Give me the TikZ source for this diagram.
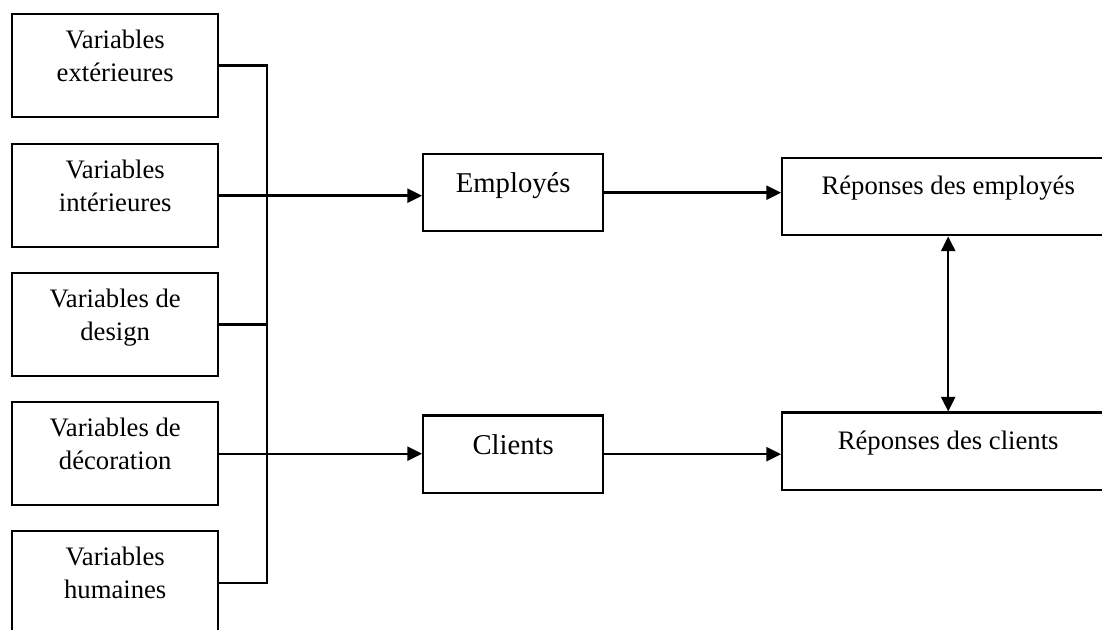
\documentclass[tikz,border=0pt]{standalone}
\usepackage{fontspec}
\setmainfont{Liberation Serif}
\usetikzlibrary{arrows.meta}

\newcommand{\twolines}[2]{\begin{tabular}[t]{@{}c@{}}#1\\#2\end{tabular}}

\begin{document}
\begin{tikzpicture}[x=0.75pt, y=-0.75pt, line width=1.8pt,
		>={Triangle[length=11pt, width=10.5pt]},
		varbox/.style={draw, anchor=north west, inner sep=0pt, minimum width=154.5pt,
			text height=25.5pt, text depth=51.75pt, font=\fontsize{20}{24.75}\selectfont},
		groupbox/.style={draw, anchor=north west, inner sep=0pt, minimum width=135pt,
			text height=29pt, text depth=28.75pt, font=\fontsize{21.5}{26}\selectfont},
		repbox/.style={draw, anchor=north west, inner sep=0pt, minimum width=249pt,
			text height=27.25pt, text depth=30.5pt, font=\fontsize{20}{24.75}\selectfont}]
		\useasboundingbox (0,0) rectangle (1102,630);
		\clip (0,0) rectangle (1102,630);

		% variable boxes
		\node[varbox] (ext) at (11,13) {\twolines{Variables}{extérieures}};
		\node[varbox] (int) at (11,143) {\twolines{Variables}{intérieures}};
		\node[varbox] (des) at (11,272) {\twolines{Variables de}{design}};
		\node[varbox] (deco) at (11,401) {\twolines{Variables de}{décoration}};
		\node[varbox] (hum) at (11,530) {\twolines{Variables}{humaines}};

		% groups and responses
		\node[groupbox] (emp) at (422,153) {Employés};
		\node[groupbox] (cli) at (422,414.5) {Clients};
		\node[repbox] (repE) at (781,157) {Réponses des employés};
		\node[repbox] (repC) at (781,411.5) {Réponses des clients};

		\coordinate (bus) at (267,13);

		\draw (ext.east) -| (bus |- hum.east) -- (hum.east);
		\draw (des.east) -- (des.east -| bus);

		\draw[->] (int.east) -- (int.east -| emp.west);
		\draw[->] (deco.east) -- (deco.east -| cli.west);
		\draw[->] (emp.east) -- (emp.east -| repE.west);
		\draw[->] (cli.east) -- (cli.east -| repC.west);

		\draw[<->] (repE) -- (repC);

	\end{tikzpicture}
\end{document}
